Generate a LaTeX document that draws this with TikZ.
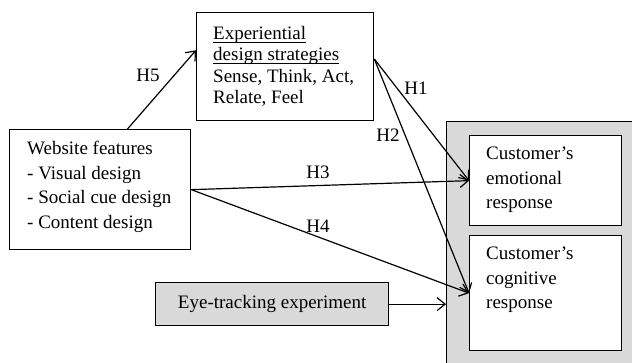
\documentclass[tikz,border=0pt]{standalone}
\usepackage{fontspec}
\setmainfont{Liberation Serif}
\usetikzlibrary{arrows.meta,calc}
\definecolor{graybg}{HTML}{D9D9D9}
\newcommand\myul[1]{\setbox0\hbox{#1}\rlap{\rule[-3.5pt]{\wd0}{1pt}}\box0}
\begin{document}
\begin{tikzpicture}[x=1pt,y=-1pt,
  box/.style={draw,line width=1.3pt,fill=white,inner sep=0pt,anchor=north west},
  txt/.style={inner sep=0pt,anchor=north west,align=left,font=\fontsize{19}{24.5}\selectfont},
  lbl/.style={inner sep=0pt,font=\fontsize{19}{24}\selectfont},
  arr/.style={line width=1.2pt,-{Straight Barb[length=8pt,width=13pt,line width=1.2pt]}}]
\useasboundingbox (0,0) rectangle (632,362);
\node[box,fill=graybg,minimum width=200,minimum height=260] (outer) at (446,121) {};
\node[box,minimum width=152,minimum height=90] (emo) at (469,135) {};
\node[box,minimum width=152,minimum height=115] (cog) at (469,235) {};
\node[box,minimum width=177,minimum height=108] (exp) at (196,12) {};
\node[box,minimum width=181,minimum height=120] (web) at (9,129) {};
\node[box,fill=graybg,minimum width=233,minimum height=43,font=\fontsize{19}{24}\selectfont] (eye) at (155,282) {Eye-tracking experiment};
\node[txt,font=\fontsize{19}{21.5}\selectfont] (exptxt) at (213,26) {\myul{Experiential}\\\myul{design strategies}\\Sense, Think, Act,\\Relate, Feel};
\node[txt] (webtxt) at (27,141) {Website features\\- Visual design\\- Social cue design\\- Content design};
\node[txt] (emotxt) at (486,147) {Customer’s\\emotional\\response};
\node[txt] (cogtxt) at (486,247) {Customer’s\\cognitive\\response};
\coordinate (expout) at ($(exp.north east)!0.43!(exp.south east)$);
\draw[arr] ($(web.north west)!0.65!(web.north east)$) -- ($(exp.north west)!0.35!(exp.south west)$);
\draw[arr] (expout) -- (emo.west);
\draw[arr] (expout) -- (cog.west);
\draw[arr] (web.east) -- (emo.west);
\draw[arr] (web.east) -- (cog.west);
\draw[arr] (eye.east) -- (eye.east -| outer.west);
\node[lbl] (h5) at (148,75) {H5};
\node[lbl] (h1) at (416,88) {H1};
\node[lbl] (h2) at (388,135) {H2};
\node[lbl] (h3) at (318,172) {H3};
\node[lbl] (h4) at (318,226) {H4};
\end{tikzpicture}
\end{document}
